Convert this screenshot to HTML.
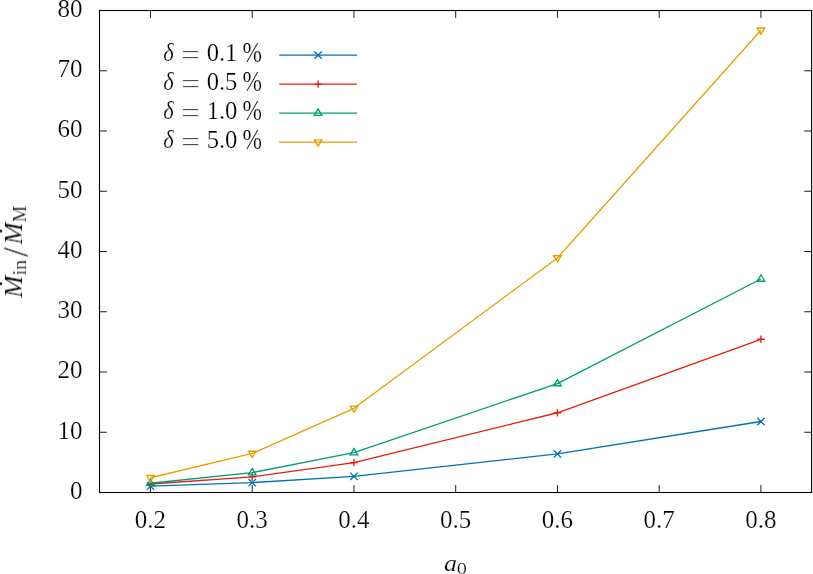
<!DOCTYPE html>
<html><head><meta charset="utf-8"><title>Mdot_in/Mdot_M vs a0</title>
<style>
html,body{margin:0;padding:0;background:#fff;}
svg{display:block;}
text{font-family:"Liberation Serif",serif;font-size:25px;fill:#000;stroke:#fff;stroke-width:0.2px;}
.i{font-style:italic;}
.s{font-size:16.7px;}
</style></head><body>
<svg width="813" height="574" viewBox="0 0 813 574">
<rect width="813" height="574" fill="#fff"/>
<g stroke="#000" stroke-width="0.9" fill="none">
<path d="M99.50 432.25h7.4M811.60 432.25h-7.4"/>
<path d="M99.50 372.00h7.4M811.60 372.00h-7.4"/>
<path d="M99.50 311.75h7.4M811.60 311.75h-7.4"/>
<path d="M99.50 251.50h7.4M811.60 251.50h-7.4"/>
<path d="M99.50 191.25h7.4M811.60 191.25h-7.4"/>
<path d="M99.50 131.00h7.4M811.60 131.00h-7.4"/>
<path d="M99.50 70.75h7.4M811.60 70.75h-7.4"/>
<path d="M150.47 492.50v-7.4M150.47 10.50v7.4"/>
<path d="M252.21 492.50v-7.4M252.21 10.50v7.4"/>
<path d="M353.96 492.50v-7.4M353.96 10.50v7.4"/>
<path d="M455.70 492.50v-7.4M455.70 10.50v7.4"/>
<path d="M557.44 492.50v-7.4M557.44 10.50v7.4"/>
<path d="M659.19 492.50v-7.4M659.19 10.50v7.4"/>
<path d="M760.93 492.50v-7.4M760.93 10.50v7.4"/>
<rect x="99.5" y="10.5" width="712.10" height="482.00" stroke-width="1.1"/>
</g>
<path d="M279.2 55.1H357.1" stroke="#0072b2" stroke-width="1.35" fill="none"/>
<path d="M314.40 51.40L321.80 58.80M314.40 58.80L321.80 51.40" stroke="#0072b2" stroke-width="1.35" fill="none"/>
<path d="M279.2 84.1H357.1" stroke="#e51e10" stroke-width="1.35" fill="none"/>
<path d="M314.40 84.10H321.80M318.10 80.40V87.80" stroke="#e51e10" stroke-width="1.35" fill="none"/>
<path d="M279.2 113.1H357.1" stroke="#009e73" stroke-width="1.35" fill="none"/>
<path d="M314.30 115.30L318.10 109.10L321.90 115.30Z" stroke="#009e73" stroke-width="1.35" fill="none"/>
<path d="M279.2 142.1H357.1" stroke="#e69f00" stroke-width="1.35" fill="none"/>
<path d="M314.30 139.90L318.10 146.10L321.90 139.90Z" stroke="#e69f00" stroke-width="1.35" fill="none"/>
<polyline points="150.47,486.16 252.21,482.66 353.96,476.33 557.44,453.92 760.93,421.51" stroke="#0072b2" stroke-width="1.35" fill="none" stroke-linejoin="round"/>
<path d="M146.77 482.46L154.17 489.86M146.77 489.86L154.17 482.46" stroke="#0072b2" stroke-width="1.35" fill="none"/>
<path d="M248.51 478.96L255.91 486.36M248.51 486.36L255.91 478.96" stroke="#0072b2" stroke-width="1.35" fill="none"/>
<path d="M350.26 472.63L357.66 480.03M350.26 480.03L357.66 472.63" stroke="#0072b2" stroke-width="1.35" fill="none"/>
<path d="M553.74 450.22L561.14 457.62M553.74 457.62L561.14 450.22" stroke="#0072b2" stroke-width="1.35" fill="none"/>
<path d="M757.23 417.81L764.63 425.21M757.23 425.21L764.63 417.81" stroke="#0072b2" stroke-width="1.35" fill="none"/>
<polyline points="150.47,483.99 252.21,476.94 353.96,462.66 557.44,412.77 760.93,339.27" stroke="#e51e10" stroke-width="1.35" fill="none" stroke-linejoin="round"/>
<path d="M146.77 483.99H154.17M150.47 480.29V487.69" stroke="#e51e10" stroke-width="1.35" fill="none"/>
<path d="M248.51 476.94H255.91M252.21 473.24V480.64" stroke="#e51e10" stroke-width="1.35" fill="none"/>
<path d="M350.26 462.66H357.66M353.96 458.96V466.36" stroke="#e51e10" stroke-width="1.35" fill="none"/>
<path d="M553.74 412.77H561.14M557.44 409.07V416.47" stroke="#e51e10" stroke-width="1.35" fill="none"/>
<path d="M757.23 339.27H764.63M760.93 335.57V342.97" stroke="#e51e10" stroke-width="1.35" fill="none"/>
<polyline points="150.47,483.26 252.21,472.66 353.96,452.60 557.44,383.55 760.93,279.02" stroke="#009e73" stroke-width="1.35" fill="none" stroke-linejoin="round"/>
<path d="M146.67 485.46L150.47 479.26L154.27 485.46Z" stroke="#009e73" stroke-width="1.35" fill="none"/>
<path d="M248.41 474.86L252.21 468.66L256.01 474.86Z" stroke="#009e73" stroke-width="1.35" fill="none"/>
<path d="M350.16 454.80L353.96 448.60L357.76 454.80Z" stroke="#009e73" stroke-width="1.35" fill="none"/>
<path d="M553.64 385.75L557.44 379.55L561.24 385.75Z" stroke="#009e73" stroke-width="1.35" fill="none"/>
<path d="M757.13 281.22L760.93 275.02L764.73 281.22Z" stroke="#009e73" stroke-width="1.35" fill="none"/>
<polyline points="150.47,477.72 252.21,453.44 353.96,408.31 557.44,257.93 760.93,30.18" stroke="#e69f00" stroke-width="1.35" fill="none" stroke-linejoin="round"/>
<path d="M146.67 475.52L150.47 481.72L154.27 475.52Z" stroke="#e69f00" stroke-width="1.35" fill="none"/>
<path d="M248.41 451.24L252.21 457.44L256.01 451.24Z" stroke="#e69f00" stroke-width="1.35" fill="none"/>
<path d="M350.16 406.11L353.96 412.31L357.76 406.11Z" stroke="#e69f00" stroke-width="1.35" fill="none"/>
<path d="M553.64 255.73L557.44 261.93L561.24 255.73Z" stroke="#e69f00" stroke-width="1.35" fill="none"/>
<path d="M757.13 27.98L760.93 34.18L764.73 27.98Z" stroke="#e69f00" stroke-width="1.35" fill="none"/>
<g opacity="0.99">
<text x="82.6" y="498.95" text-anchor="end">0</text>
<text x="82.6" y="438.70" text-anchor="end">10</text>
<text x="82.6" y="378.45" text-anchor="end">20</text>
<text x="82.6" y="318.20" text-anchor="end">30</text>
<text x="82.6" y="257.95" text-anchor="end">40</text>
<text x="82.6" y="197.70" text-anchor="end">50</text>
<text x="82.6" y="137.45" text-anchor="end">60</text>
<text x="82.6" y="77.20" text-anchor="end">70</text>
<text x="82.6" y="16.95" text-anchor="end">80</text>
<text x="150.32" y="527.9" text-anchor="middle">0.2</text>
<text x="252.06" y="527.9" text-anchor="middle">0.3</text>
<text x="353.81" y="527.9" text-anchor="middle">0.4</text>
<text x="455.55" y="527.9" text-anchor="middle">0.5</text>
<text x="557.29" y="527.9" text-anchor="middle">0.6</text>
<text x="659.04" y="527.9" text-anchor="middle">0.7</text>
<text x="760.78" y="527.9" text-anchor="middle">0.8</text>
<text transform="translate(443.92 570.97) scale(1.042 0.938)" class="i">a</text><text transform="translate(456.79 574.25) scale(1.214 1.000)" class="s">0</text>
<g transform="translate(21.95 297.6) rotate(-90)"><text transform="translate(-0.13 0.00) scale(1.070 1.027)" class="i">M</text><circle cx="13.9" cy="-21.1" r="1.4"/><text transform="translate(22.30 4.05) scale(1.196 1.091)" class="s">in</text><text transform="translate(40.80 5.69) scale(1.386 1.421)">/</text><text transform="translate(52.97 0.00) scale(1.065 1.027)" class="i">M</text><circle cx="66.6" cy="-21.1" r="1.4"/><text transform="translate(75.55 4.05) scale(1.093 1.105)" class="s">M</text></g>
<text transform="translate(163.23 61.25) scale(0.898 1.006)" class="i">δ</text><text style="stroke-width:0.5px" transform="translate(180.98 63.88) scale(1.379 1.077)">=</text><text transform="translate(206.65 61.10) scale(0.984 1)">0.1</text><text transform="translate(242.40 62.03) scale(0.935 1.148)">%</text>
<text transform="translate(163.23 90.25) scale(0.898 1.006)" class="i">δ</text><text style="stroke-width:0.5px" transform="translate(180.98 92.88) scale(1.379 1.077)">=</text><text transform="translate(206.65 90.10) scale(0.984 1)">0.5</text><text transform="translate(242.40 91.03) scale(0.935 1.148)">%</text>
<text transform="translate(163.23 119.25) scale(0.898 1.006)" class="i">δ</text><text style="stroke-width:0.5px" transform="translate(180.98 121.88) scale(1.379 1.077)">=</text><text transform="translate(206.65 119.10) scale(0.984 1)">1.0</text><text transform="translate(242.40 120.03) scale(0.935 1.148)">%</text>
<text transform="translate(163.23 148.25) scale(0.898 1.006)" class="i">δ</text><text style="stroke-width:0.5px" transform="translate(180.98 150.88) scale(1.379 1.077)">=</text><text transform="translate(206.65 148.10) scale(0.984 1)">5.0</text><text transform="translate(242.40 149.03) scale(0.935 1.148)">%</text>
</g>
</svg></body></html>
